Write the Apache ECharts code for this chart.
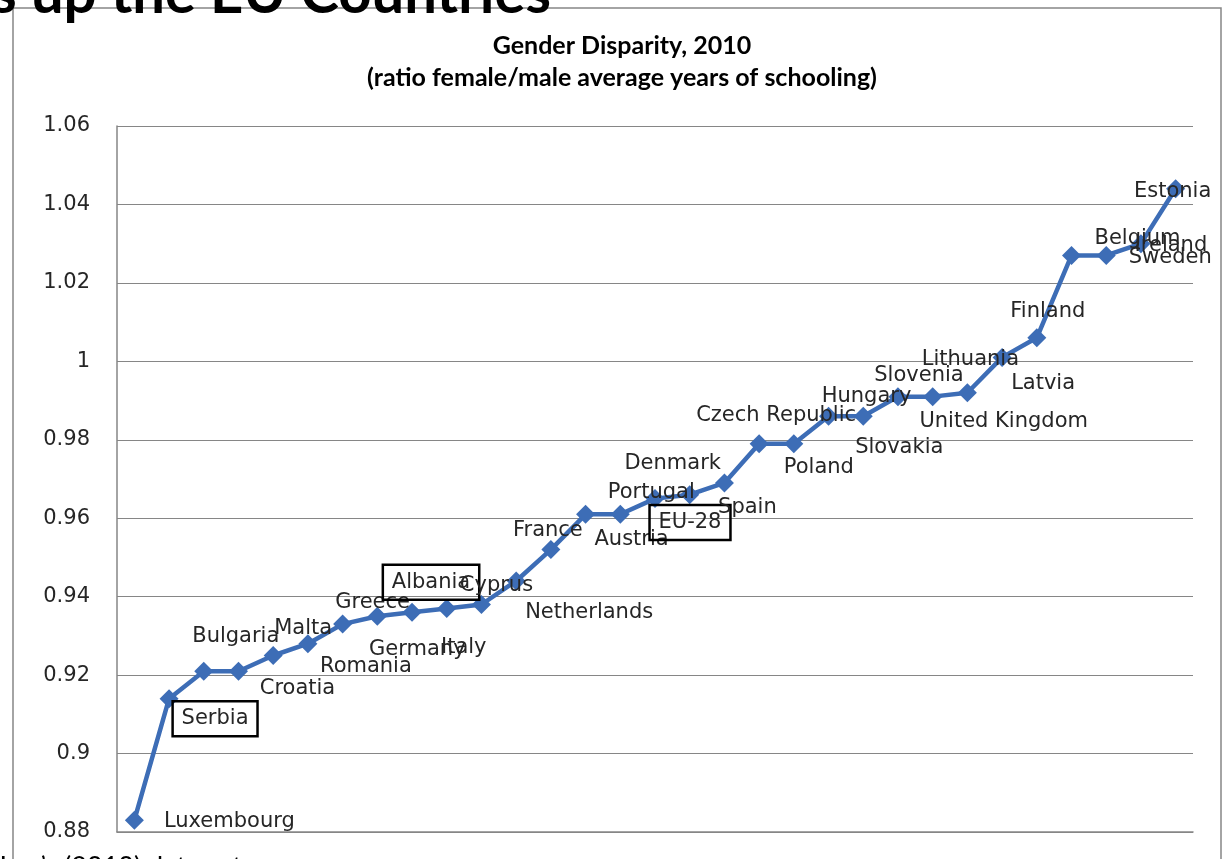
<!DOCTYPE html>
<html>
<head>
<meta charset="utf-8">
<script src="https://cdn.jsdelivr.net/npm/echarts@6/dist/echarts.min.js"></script>
<style>
  html, body { margin: 0; padding: 0; background: #fff; }
  #chart { width: 1229px; height: 859px; }
</style>
</head>
<body>
<div id="chart"></div>
<script>
// ---- data ----
const categories = [
  'Luxembourg', 'Serbia', 'Bulgaria', 'Croatia', 'Malta', 'Romania', 'Greece',
  'Germany', 'Albania', 'Italy', 'Cyprus', 'Netherlands', 'France', 'Austria',
  'Portugal', 'EU-28', 'Denmark', 'Spain', 'Czech Republic', 'Poland', 'Hungary',
  'Slovakia', 'Slovenia', 'United Kingdom', 'Lithuania', 'Latvia', 'Finland',
  'Belgium', 'Sweden', 'Ireland', 'Estonia'
];
const values = [
  0.883, 0.914, 0.921, 0.921, 0.925, 0.928, 0.933,
  0.935, 0.936, 0.937, 0.938, 0.944, 0.952, 0.961,
  0.961, 0.965, 0.966, 0.969, 0.979, 0.979, 0.986,
  0.986, 0.991, 0.991, 0.992, 1.001, 1.006,
  1.027, 1.027, 1.030, 1.044
];
const boxedLabels = ['Serbia', 'Albania', 'EU-28'];
const yTickMin = 0.88, yTickMax = 1.06, yTickStep = 0.02;

// ---- label layout (offsets of label centre from its marker, px) ----
const labelOffsets = [
  [95, 1], [46, 20], [32, -35], [59, 17], [30, -27], [58, 23], [30, -22],
  [40, 33], [19, -30], [17, 39], [15, -19], [73, 32], [-3, -19], [46, 25],
  [31, -22], [35, 24], [-17, -31], [23, 25], [17, -28], [25, 24], [38, -20],
  [36, 31], [21, -21], [71, 25], [3, -33], [41, 26], [11, -26],
  [66, -17], [64, 2], [30, 2], [-3, 3]
];

const labelFont = 'DejaVu Sans';
const seriesData = values.map((v, i) => {
  const boxed = boxedLabels.indexOf(categories[i]) >= 0;
  const lbl = {
    show: true,
    position: 'inside',
    formatter: categories[i],
    fontFamily: labelFont,
    fontSize: 21,
    color: '#262626',
    lineHeight: 25
  };
  if (boxed) {
    lbl.borderColor = '#000';
    lbl.borderWidth = 2.5;
    lbl.padding = [5, 9, 5, 9];
  }
  return { value: v, label: lbl };
});

const chart = echarts.init(document.getElementById('chart'), null, { renderer: 'canvas' });
chart.setOption({
  animation: false,
  backgroundColor: '#fff',
  title: {
    text: 'Gender Disparity, 2010\n(ratio female/male average years of schooling)',
    left: 617,
    top: 25,
    textAlign: 'center',
    textStyle: {
      fontFamily: 'Lato',
      fontWeight: 'bold',
      fontSize: 25,
      lineHeight: 32,
      color: '#000'
    }
  },
  grid: { left: 117, right: 36, top: 126, bottom: 27, containLabel: false },
  xAxis: {
    type: 'category',
    data: categories,
    boundaryGap: true,
    axisLine: { show: true, lineStyle: { color: '#868686', width: 1.5 } },
    axisTick: { show: false },
    axisLabel: { show: false },
    splitLine: { show: false }
  },
  yAxis: {
    type: 'value',
    min: yTickMin,
    max: yTickMax,
    interval: yTickStep,
    axisLine: { show: true, lineStyle: { color: '#868686', width: 1.5 } },
    axisTick: { show: false },
    axisLabel: {
      fontFamily: labelFont,
      fontSize: 21,
      color: '#262626',
      margin: 27
    },
    splitLine: { show: true, lineStyle: { color: '#868686', width: 1 } }
  },
  series: [{
    type: 'line',
    data: seriesData,
    symbol: 'diamond',
    symbolSize: 19,
    lineStyle: { color: '#3D6DB6', width: 4.5 },
    itemStyle: { color: '#3D6DB6' },
    labelLayout: function (params) {
      const o = labelOffsets[params.dataIndex];
      return { dx: o[0], dy: o[1], hideOverlap: false };
    },
    z: 3
  }],
  graphic: [
    {
      type: 'rect',
      z: -1,
      shape: { x: 13, y: 8, width: 1208, height: 900 },
      style: { fill: 'none', stroke: '#868686', lineWidth: 1.5 }
    },
    {
      type: 'text',
      z: 10,
      x: 551,
      y: -6,
      style: {
        text: 'How Albania and Serbia stacks up the EU Countries',
        fontFamily: 'Lato',
        fontWeight: 'bold',
        fontSize: 58,
        fill: '#000',
        align: 'right',
        verticalAlign: 'middle'
      }
    },
    {
      type: 'text',
      z: 10,
      x: 242,
      y: 867,
      style: {
        text: 'Source: Barro and Lee’s (2010) data set',
        fontFamily: 'Lato',
        fontSize: 27,
        fill: '#000',
        align: 'right',
        verticalAlign: 'middle'
      }
    }
  ]
});
</script>
</body>
</html>
